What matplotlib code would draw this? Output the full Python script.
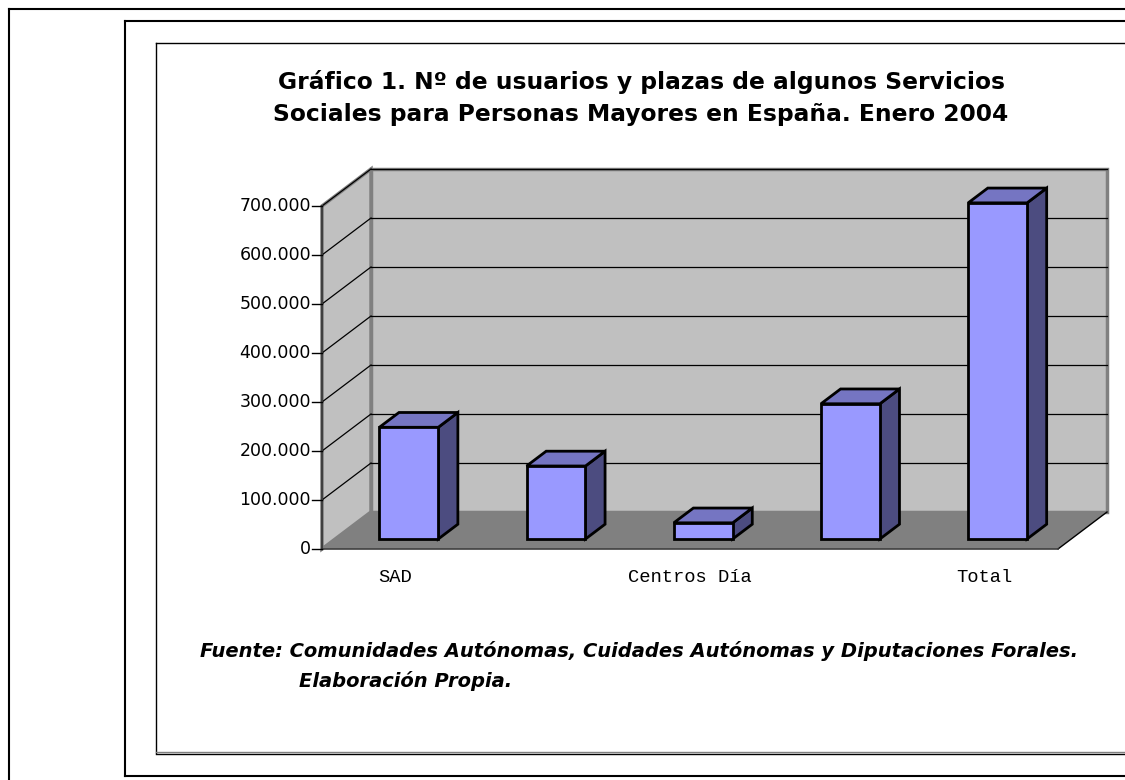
import matplotlib
matplotlib.use("Agg")
import matplotlib.pyplot as plt
from matplotlib.patches import Polygon
from matplotlib.lines import Line2D

# data (values in persons / places)
categories = ['SAD', 'Teleasistencia', 'Centros Día', 'Residencias', 'Total']
values = [228000, 149000, 33000, 276000, 686000]
yticks = [0, 100000, 200000, 300000, 400000, 500000, 600000, 700000]
ymax = 700000

title = ("Gráfico 1. Nº de usuarios y plazas de algunos Servicios\n"
         "Sociales para Personas Mayores en España. Enero 2004")
source1 = "Fuente: Comunidades Autónomas, Cuidades Autónomas y Diputaciones Forales."
source2 = "Elaboración Propia."

W, H = 1125, 780
fig = plt.figure(figsize=(W / 100, H / 100), dpi=100)
fig.patch.set_facecolor('white')

# frames around the chart (figure pixel coords, y from top)
def hline(x0, x1, y, **kw):
    fig.add_artist(Line2D([x0 / W, x1 / W], [1 - y / H, 1 - y / H],
                          transform=fig.transFigure, **kw))

def vline(x, y0, y1, **kw):
    fig.add_artist(Line2D([x / W, x / W], [1 - y0 / H, 1 - y1 / H],
                          transform=fig.transFigure, **kw))

hline(9, W, 9, color='black', lw=1.5)
vline(9, 9, H, color='black', lw=1.5)
hline(125, W, 21, color='black', lw=1.5)
vline(125, 21, 776, color='black', lw=1.5)
hline(125, W, 776, color='black', lw=1.5)
hline(156, W, 43, color='black', lw=1)
vline(156, 43, 753, color='black', lw=1)
hline(156, W, 752, color='#808080', lw=1)
hline(156, W, 753.5, color='black', lw=1)

# main axes: x in category units, y in values; mapped to pixels
x_px0, cat_px = 322, 147.2
y_px0, val_px = 780 - 549, 49.0 / 100000
ax = fig.add_axes([0, 0, 1, 1])
ax.set_xlim(-x_px0 / cat_px, (W - x_px0) / cat_px)
ax.set_ylim(-y_px0 / val_px, (H - y_px0) / val_px)
ax.axis('off')

n = len(categories)
DX = 49 / cat_px          # depth shift in category units
DY = 37 / val_px          # depth shift in value units

wall = '#C0C0C0'
edge = '#808080'

# back wall and side wall
ax.add_patch(Polygon([(DX, DY), (n + DX, DY), (n + DX, ymax + DY), (DX, ymax + DY)],
                     closed=True, fc=wall, ec=edge, lw=2.5, zorder=1))
ax.add_patch(Polygon([(0, 0), (DX, DY), (DX, ymax + DY), (0, ymax)],
                     closed=True, fc=wall, ec=edge, lw=2.5, zorder=1))

# gridlines
for v in yticks[1:]:
    ax.plot([DX, n + DX], [v + DY, v + DY], color='black', lw=0.9, zorder=2)
    ax.plot([0, DX], [v, v + DY], color='black', lw=0.9, zorder=2)

# floor
ax.add_patch(Polygon([(0, 0), (DX, DY), (n + DX, DY), (n, 0)],
                     closed=True, fc='#808080', ec='none', zorder=3))
ax.plot([n, n + DX], [0, DY], color='black', lw=1, zorder=3)

# bars
front, top, side = '#9999FF', '#7575C2', '#4C4C80'
bw = 0.4
d1, d2 = 0.27, 0.67
for i, v in enumerate(values):
    x0 = i + 0.5 - bw / 2
    x1 = x0 + bw
    a = (d1 * DX, d1 * DY)
    b = (d2 * DX, d2 * DY)
    ax.add_patch(Polygon([(x1 + a[0], a[1]), (x1 + b[0], b[1]),
                          (x1 + b[0], v + b[1]), (x1 + a[0], v + a[1])],
                         closed=True, fc=side, ec='black', lw=2, joinstyle='miter', zorder=5))
    ax.add_patch(Polygon([(x0 + a[0], v + a[1]), (x1 + a[0], v + a[1]),
                          (x1 + b[0], v + b[1]), (x0 + b[0], v + b[1])],
                         closed=True, fc=top, ec='black', lw=2, joinstyle='miter', zorder=5))
    ax.add_patch(Polygon([(x0 + a[0], a[1]), (x1 + a[0], a[1]),
                          (x1 + a[0], v + a[1]), (x0 + a[0], v + a[1])],
                         closed=True, fc=front, ec='black', lw=2, joinstyle='miter', zorder=6))

# value axis with ticks and labels
ax.plot([0, 0], [0, ymax], color='#404040', lw=1.5, zorder=7)
ax.plot([0, n], [0, 0], color='#404040', lw=1.2, zorder=7)
tick_len = 10 / cat_px
for v in yticks:
    ax.plot([-tick_len, 0], [v, v], color='black', lw=1, zorder=7)
    lab = f"{v:,}".replace(",", ".")
    ax.text(-tick_len - 1 / cat_px, v, lab, ha='right', va='center',
            fontsize=12.5, family='DejaVu Sans', color='black')

# category labels (every other one shown, as in the original)
for i, c in enumerate(categories):
    if i % 2 == 0:
        ax.text(i + 0.5, -28 / val_px, c, ha='center', va='center',
                fontsize=13.5, family=['Liberation Mono', 'DejaVu Sans'])

# title and source
fig.text(641 / W, 1 - 98 / H, title, ha='center', va='center', fontsize=16.8,
         fontweight='bold', family='DejaVu Sans', linespacing=1.5)
fig.text(200 / W, 1 - 651 / H, source1, ha='left', va='center', fontsize=14,
         fontweight='bold', fontstyle='italic', family='DejaVu Sans')
fig.text(299 / W, 1 - 681 / H, source2, ha='left', va='center', fontsize=14,
         fontweight='bold', fontstyle='italic', family='DejaVu Sans')

fig.savefig('out.png', dpi=100)
